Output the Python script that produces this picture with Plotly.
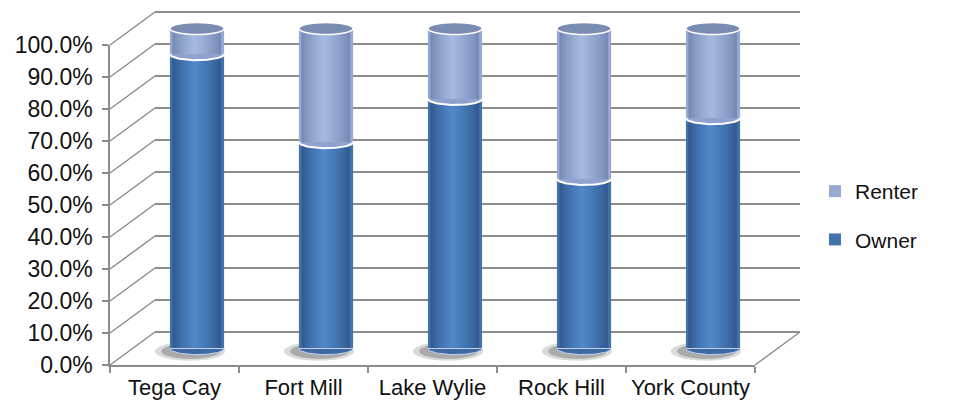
import numpy as np
import plotly.graph_objects as go

# ---------------- data ----------------
categories = ["Tega Cay", "Fort Mill", "Lake Wylie", "Rock Hill", "York County"]
owner = [92.0, 64.5, 78.0, 53.0, 72.0]
renter = [100.0 - v for v in owner]
tick_values = [0, 10, 20, 30, 40, 50, 60, 70, 80, 90, 100]
tick_labels = ["0.0%", "10.0%", "20.0%", "30.0%", "40.0%", "50.0%",
               "60.0%", "70.0%", "80.0%", "90.0%", "100.0%"]

# ---------------- geometry (pixels) ----------------
W, H = 956, 420
FX0, FX1 = 110, 755        # front floor edge
FY0, FY1 = 365, 45         # front 0% / 100%
DX, DY = 45, -33           # depth offset to back wall


def px(x):
    return x / W


def py(y):
    return 1 - y / H


def ypix(v, depth):
    return FY0 + depth * DY + (FY1 - FY0) * v / 100.0


def mix(c1, c2, a):
    c1 = [int(c1[i:i + 2], 16) for i in (1, 3, 5)]
    c2 = [int(c2[i:i + 2], 16) for i in (1, 3, 5)]
    return "#" + "".join("%02x" % int(round(p + (q - p) * a)) for p, q in zip(c1, c2))


BAR_W = 0.42
E = 1.9  # half-height of ellipses in data units

N_LAYERS = 10
fracs = [1.0 - 0.9 * k / (N_LAYERS - 1) for k in range(N_LAYERS)]
owner_cols = [mix("#2A5085", "#5086C6", (k / (N_LAYERS - 1)) ** 0.7) for k in range(N_LAYERS)]
renter_cols = [mix("#6A80AD", "#A4B7DD", (k / (N_LAYERS - 1)) ** 0.7) for k in range(N_LAYERS)]

fig = go.Figure()
idx = list(range(len(categories)))

# invisible traces so every subplot is drawn
fig.add_trace(go.Scatter(x=categories, y=owner, mode="markers",
                         marker=dict(opacity=0), showlegend=False,
                         hoverinfo="skip", xaxis="x", yaxis="y"))
fig.add_trace(go.Scatter(x=[0.5], y=[50], mode="markers",
                         marker=dict(opacity=0), showlegend=False,
                         hoverinfo="skip", xaxis="x2", yaxis="y2"))

# shading layers of cylinders
for k, (f, oc, rc) in enumerate(zip(fracs, owner_cols, renter_cols)):
    shift = -0.02 * (1 - f)
    xs = [i + shift for i in idx]
    fig.add_trace(go.Bar(x=xs, y=owner, width=BAR_W * f,
                         marker=dict(color=oc if k else "#4472AA", line=dict(width=0)),
                         name="Owner", legendgroup="owner",
                         showlegend=(k == 0), legendrank=2,
                         hoverinfo="skip", xaxis="x3", yaxis="y3"))
    fig.add_trace(go.Bar(x=xs, y=renter, base=owner, width=BAR_W * f,
                         marker=dict(color=rc if k else "#95A9D3", line=dict(width=0)),
                         name="Renter", legendgroup="renter",
                         showlegend=(k == 0), legendrank=1,
                         hoverinfo="skip", xaxis="x3", yaxis="y3"))
# re-darken outer edges (legend traces carry the flat legend colours)
fig.add_trace(go.Bar(x=idx, y=owner, width=BAR_W,
                     marker=dict(color="rgba(0,0,0,0)", line=dict(width=0)),
                     showlegend=False, hoverinfo="skip", xaxis="x3", yaxis="y3"))

t = np.linspace(0, np.pi, 40)
for i, o in zip(idx, owner):
    bx = i + (BAR_W / 2) * np.cos(t)
    by = -E * np.sin(t)
    fig.add_trace(go.Scatter(x=np.concatenate([bx, [bx[0]]]),
                             y=np.concatenate([by, [by[0]]]),
                             mode="lines", fill="toself", fillcolor="#3A69A4",
                             line=dict(color="#C4D3EC", width=1),
                             showlegend=False, hoverinfo="skip",
                             xaxis="x3", yaxis="y3"))
    ax = i + (BAR_W / 2) * np.cos(t)
    ay = o - E * np.sin(t)
    fig.add_trace(go.Scatter(x=np.concatenate([ax, [ax[0]]]),
                             y=np.concatenate([ay, [o]]),
                             mode="lines", fill="toself", fillcolor="#8FA3CE",
                             line=dict(width=0), showlegend=False,
                             hoverinfo="skip", xaxis="x3", yaxis="y3"))
    fig.add_trace(go.Scatter(x=ax, y=ay, mode="lines",
                             line=dict(color="white", width=2),
                             showlegend=False, hoverinfo="skip",
                             xaxis="x3", yaxis="y3"))

shapes = []
for v in tick_values:
    shapes.append(dict(type="line", xref="paper", yref="paper",
                       x0=px(FX0), y0=py(ypix(v, 0)),
                       x1=px(FX0 + DX), y1=py(ypix(v, 1)),
                       line=dict(color="#8C8C8C", width=1.5), layer="below"))
shapes.append(dict(type="line", xref="paper", yref="paper",
                   x0=px(FX1), y0=py(ypix(0, 0)), x1=px(FX1 + DX), y1=py(ypix(0, 1)),
                   line=dict(color="#8C8C8C", width=1.5), layer="below"))
for i in idx:
    shapes.append(dict(type="circle", xref="x3", yref="y3",
                       x0=i - BAR_W * 0.78, x1=i + BAR_W * 0.52,
                       y0=-E * 2.0, y1=E * 1.1,
                       fillcolor="rgba(150,150,150,0.35)",
                       line=dict(width=0), layer="below"))
    shapes.append(dict(type="circle", xref="x3", yref="y3",
                       x0=i - BAR_W * 0.66, x1=i + BAR_W * 0.42,
                       y0=-E * 1.7, y1=E * 0.8,
                       fillcolor="rgba(110,110,110,0.45)",
                       line=dict(width=0), layer="below"))
    shapes.append(dict(type="circle", xref="x3", yref="y3",
                       x0=i - BAR_W / 2, x1=i + BAR_W / 2,
                       y0=100 - E, y1=100 + E,
                       fillcolor="#7B8CB3",
                       line=dict(color="white", width=1.5), layer="above"))

font_fam = "Liberation Sans, Arial, sans-serif"
Y3R = [-10, 105]
Y2R = [-1, 101]

fig.update_layout(
    width=W, height=H,
    margin=dict(l=0, r=0, t=0, b=0, pad=0, autoexpand=False),
    paper_bgcolor="white", plot_bgcolor="rgba(0,0,0,0)",
    barmode="overlay",
    showlegend=True,
    legend=dict(x=px(815), y=py(171), xanchor="left", yanchor="top",
                font=dict(family=font_fam, size=21, color="#111111"),
                tracegroupgap=18, itemwidth=30, bgcolor="rgba(0,0,0,0)"),
    shapes=shapes,
    xaxis=dict(domain=[px(FX0), px(FX1)], type="category",
               categoryarray=categories, range=[-0.5, 4.5], automargin=False,
               showgrid=False, showline=True, linecolor="#8C8C8C", linewidth=1.5,
               ticks="outside", tickson="boundaries", ticklen=6,
               tickcolor="#8C8C8C", tickwidth=1.5, ticklabelstandoff=2,
               tickfont=dict(family=font_fam, size=22, color="#111111"),
               anchor="y", fixedrange=True),
    yaxis=dict(domain=[py(FY0), py(FY1)], range=[0, 100], automargin=False,
               tickvals=tick_values, ticktext=tick_labels,
               showgrid=False, zeroline=False, showline=True,
               linecolor="#8C8C8C", linewidth=1.5,
               ticks="outside", ticklen=6, tickcolor="#8C8C8C", tickwidth=1.5,
               ticklabelstandoff=5,
               tickfont=dict(family=font_fam, size=23, color="#111111"),
               anchor="x", fixedrange=True),
    xaxis2=dict(domain=[px(FX0 + DX), px(FX1 + DX)], range=[0, 1],
                visible=True, showgrid=False, showticklabels=False,
                zeroline=False, showline=False, ticks="", automargin=False,
                anchor="y2", fixedrange=True),
    yaxis2=dict(domain=[py(ypix(Y2R[0], 1)), py(ypix(Y2R[1], 1))], range=Y2R,
                tickvals=tick_values, showticklabels=False, ticks="",
                showgrid=True, gridcolor="#8C8C8C", gridwidth=1.5,
                zeroline=False, showline=False, automargin=False,
                anchor="x2", fixedrange=True),
    xaxis3=dict(domain=[px(FX0 + DX / 2), px(FX1 + DX / 2)], range=[-0.5, 4.5],
                visible=False, anchor="y3", fixedrange=True, automargin=False),
    yaxis3=dict(domain=[py(ypix(Y3R[0], 0.5)), py(ypix(Y3R[1], 0.5))], range=Y3R,
                visible=False, anchor="x3", fixedrange=True, automargin=False),
)

fig.write_html("out.html")
